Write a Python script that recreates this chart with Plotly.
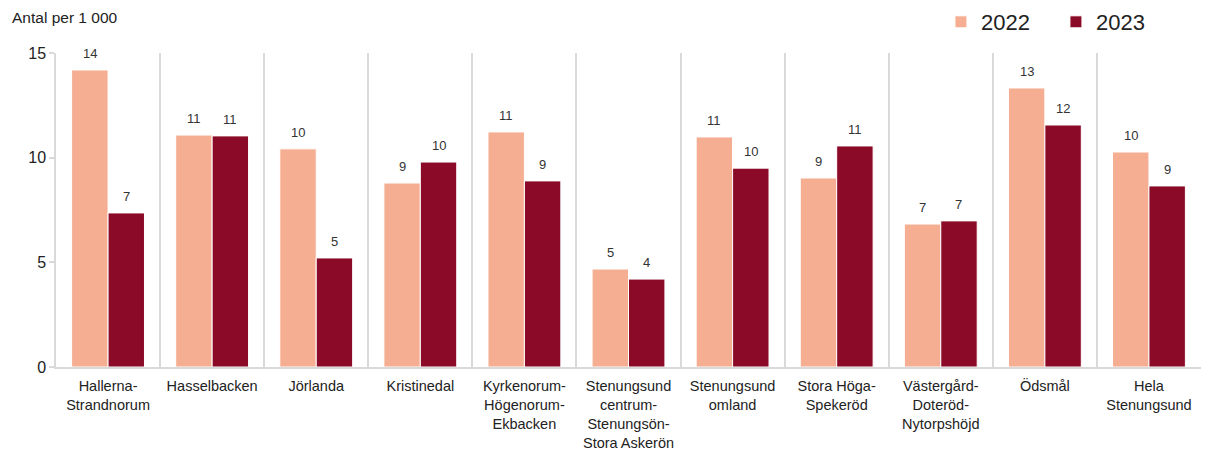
import plotly.graph_objects as go

categories = [
    "Hallerna-<br>Strandnorum",
    "Hasselbacken",
    "Jörlanda",
    "Kristinedal",
    "Kyrkenorum-<br>Högenorum-<br>Ekbacken",
    "Stenungsund<br>centrum-<br>Stenungsön-<br>Stora Askerön",
    "Stenungsund<br>omland",
    "Stora Höga-<br>Spekeröd",
    "Västergård-<br>Doteröd-<br>Nytorpshöjd",
    "Ödsmål",
    "Hela<br>Stenungsund",
]
values_2022 = [14.19, 11.08, 10.42, 8.79, 11.23, 4.68, 10.99, 9.03, 6.83, 13.33, 10.27]
values_2023 = [7.36, 11.04, 5.21, 9.79, 8.89, 4.20, 9.50, 10.56, 6.98, 11.56, 8.65]

FONT = "Liberation Sans, Arial, sans-serif"
fig = go.Figure()
fig.add_trace(go.Bar(
    name="2022", x=categories, y=values_2022,
    marker=dict(color="#F5AE91", line=dict(color="white", width=1)),
))
fig.add_trace(go.Bar(
    name="2023", x=categories, y=values_2023,
    marker=dict(color="#8B0A27", line=dict(color="white", width=1)),
))

annotations = [dict(text="Antal per 1 000", xref="paper", yref="paper",
                    x=-46 / 1145, y=1 + 35 / 314,
                    xanchor="left", yanchor="middle", showarrow=False,
                    font=dict(size=15.5, color="#222222"))]
for series, shift in ((values_2022, -18.2), (values_2023, 18.2)):
    for cat, v in zip(categories, series):
        annotations.append(dict(
            x=cat, y=v, xref="x", yref="y", text=f"{round(v):d}",
            showarrow=False, xanchor="center", yanchor="bottom",
            xshift=shift, yshift=7,
            font=dict(size=13, color="#333333", family=FONT),
        ))

fig.update_layout(
    width=1211, height=450,
    margin=dict(l=56, r=10, t=53, b=83, autoexpand=False),
    paper_bgcolor="white", plot_bgcolor="white",
    barmode="group", bargap=0.3, bargroupgap=0,
    font=dict(family=FONT, color="#222222"),
    legend=dict(orientation="h", xref="container", yref="container",
                x=0.777, xanchor="left", y=1 - 22 / 450, yanchor="middle",
                font=dict(size=22, color="#222222"), itemwidth=30,
                entrywidth=70, entrywidthmode="pixels", traceorder="normal"),
    annotations=annotations,
)
fig.update_xaxes(
    automargin=False,
    showline=True, linecolor="#D9D9D9", linewidth=1.5,
    tickson="boundaries", showgrid=True, gridcolor="#D9D9D9", gridwidth=1.5,
    ticks="", tickfont=dict(size=14.5, color="#222222"), tickangle=0,
    ticklabelstandoff=5,
)
fig.update_yaxes(
    automargin=False,
    range=[0, 15], tickvals=[0, 5, 10, 15],
    showline=True, linecolor="#D9D9D9", linewidth=1.5,
    ticks="outside", ticklen=5, tickcolor="#D9D9D9", tickwidth=1.5,
    showgrid=False, zeroline=False,
    tickfont=dict(size=16, color="#222222"),
)
fig.write_html("out.html")
